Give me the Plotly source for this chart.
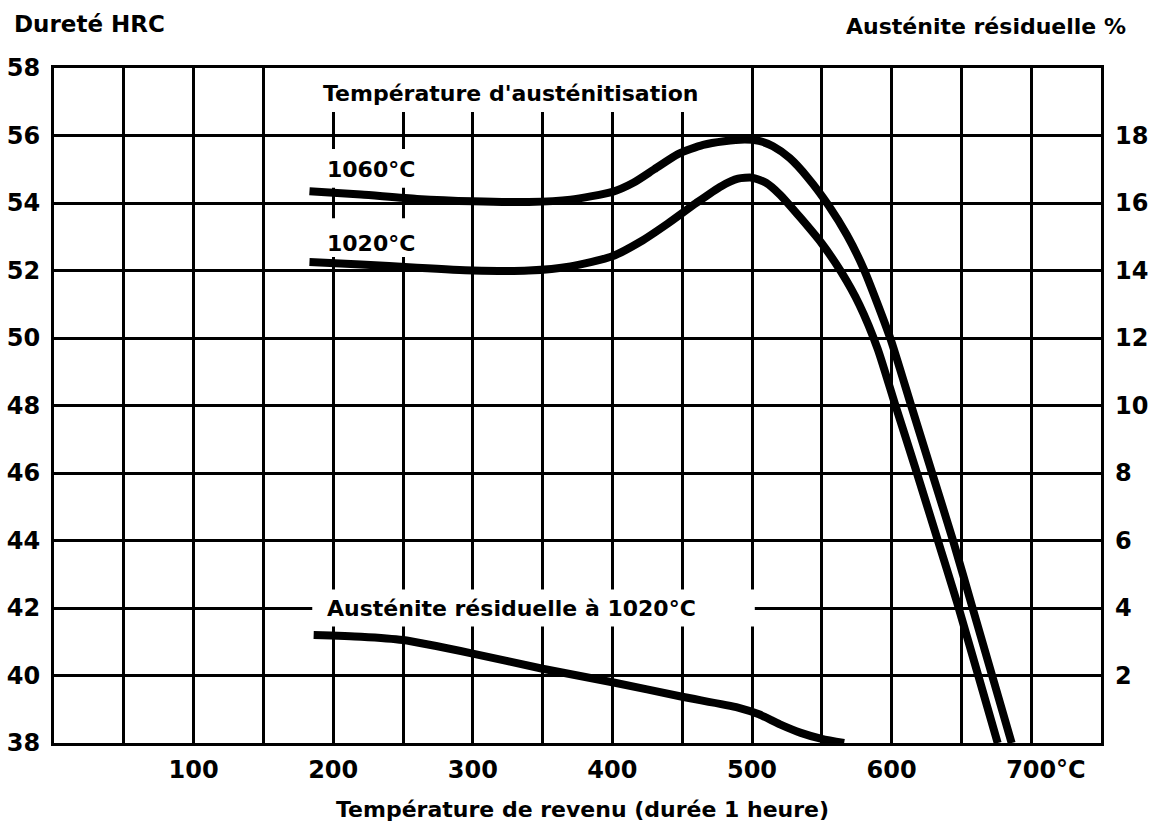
import plotly.graph_objects as go

# ---- data ----
temp_1060 = [183, 220, 260, 300, 340, 370, 400, 415, 430, 447, 465, 480, 495, 505, 515, 527, 540, 555, 568, 580, 599, 614, 629, 644, 658, 672, 686]
hrc_1060 = [54.35, 54.25, 54.12, 54.05, 54.03, 54.1, 54.33, 54.6, 55.0, 55.45, 55.72, 55.83, 55.88, 55.84, 55.68, 55.33, 54.75, 53.92, 53.05, 52.05, 50.0, 48.0, 46.0, 44.0, 42.0, 40.0, 38.0]

temp_1020 = [183, 220, 260, 300, 340, 370, 400, 420, 440, 460, 478, 490, 500, 510, 520, 535, 550, 564, 577, 590, 602, 617, 632, 647, 661, 676]
hrc_1020 = [52.25, 52.18, 52.08, 52.0, 52.0, 52.12, 52.42, 52.85, 53.4, 54.0, 54.5, 54.72, 54.75, 54.6, 54.25, 53.55, 52.8, 51.95, 50.98, 49.68, 48.1, 46.15, 44.15, 42.15, 40.15, 38.0]

temp_aus = [186, 220, 250, 300, 350, 400, 450, 490, 505, 520, 535, 550, 566]
aus_pct = [3.2, 3.15, 3.05, 2.65, 2.2, 1.8, 1.37, 1.05, 0.85, 0.55, 0.3, 0.12, 0.0]

x_tick_vals = [100, 200, 300, 400, 500, 600, 700]
x_tick_text = ["100", "200", "300", "400", "500", "600", "700"]
x_unit = "°C"
y_left_ticks = [38, 40, 42, 44, 46, 48, 50, 52, 54, 56, 58]
y_right_ticks = [2, 4, 6, 8, 10, 12, 14, 16, 18]

title_left = "Dureté HRC"
title_right = "Austénite résiduelle %"
title_x = "Température de revenu (durée 1 heure)"
label_group = "Température d'austénitisation"
label_1060 = "1060°C"
label_1020 = "1020°C"
label_aus = "Austénite résiduelle à 1020°C"

FONT = "DejaVu Sans"
INK = "black"

fig = go.Figure()

line_style = dict(color=INK, width=8, shape="spline", smoothing=0.6)
fig.add_trace(go.Scatter(x=temp_1060, y=hrc_1060, mode="lines", line=line_style,
                         showlegend=False, hoverinfo="skip"))
fig.add_trace(go.Scatter(x=temp_1020, y=hrc_1020, mode="lines", line=line_style,
                         showlegend=False, hoverinfo="skip"))
fig.add_trace(go.Scatter(x=temp_aus, y=aus_pct, mode="lines", line=line_style,
                         yaxis="y2", showlegend=False, hoverinfo="skip"))

# white patches where the scanned labels interrupt the grid
gaps = [
    dict(x0=185, x1=462, y0=56.7, y1=58),
    dict(x0=185, x1=270, y0=54.45, y1=55.6),
    dict(x0=185, x1=270, y0=52.4, y1=53.55),
    dict(x0=185, x1=502, y0=41.45, y1=42.55),
]
for g in gaps:
    fig.add_shape(type="rect", xref="x", yref="y", x0=g["x0"], x1=g["x1"], y0=g["y0"], y1=g["y1"],
                  fillcolor="white", line=dict(width=0), layer="between")

txt = dict(family=FONT, size=22, color=INK, weight="bold")
fig.add_annotation(x=327, y=57.25, xref="x", yref="y", text=label_group, showarrow=False, font=txt)
fig.add_annotation(x=227, y=54.98, xref="x", yref="y", text=label_1060, showarrow=False, font=txt)
fig.add_annotation(x=227, y=52.8, xref="x", yref="y", text=label_1020, showarrow=False, font=txt)
fig.add_annotation(x=328, y=42.0, xref="x", yref="y", text=label_aus, showarrow=False, font=txt)

fig.add_annotation(x=-0.040, y=1.065, xref="paper", yref="paper", text=title_left, showarrow=False,
                   xanchor="left", yanchor="middle", font=dict(family=FONT, size=23, color=INK, weight="bold"))
fig.add_annotation(x=1.026, y=1.062, xref="paper", yref="paper", text=title_right, showarrow=False,
                   xanchor="right", yanchor="middle", font=dict(family=FONT, size=22, color=INK, weight="bold"))
fig.add_annotation(x=0.505, y=-0.099, xref="paper", yref="paper", text=title_x, showarrow=False,
                   xanchor="center", yanchor="middle", font=dict(family=FONT, size=22, color=INK, weight="bold"))

tick_font = dict(family=FONT, size=24, color=INK, weight="bold")
fig.add_annotation(x=x_tick_vals[-1], y=-0.040, xref="x", yref="paper", text=x_unit, showarrow=False,
                   xanchor="left", yanchor="middle", xshift=23, font=tick_font)

fig.update_layout(
    width=1161, height=826,
    margin=dict(l=54, r=60, t=68, b=83, autoexpand=False),
    paper_bgcolor="white", plot_bgcolor="white",
    showlegend=False,
    xaxis=dict(range=[0, 750], tickvals=x_tick_vals, ticktext=x_tick_text, tickfont=tick_font,
               showgrid=True, gridcolor=INK, gridwidth=2.5,
               minor=dict(dtick=50, tick0=0, showgrid=True, gridcolor=INK, gridwidth=2.5),
               showline=True, linecolor=INK, linewidth=3, mirror=True, ticks="",
               zeroline=False, ticklabelstandoff=3, automargin=False),
    yaxis=dict(range=[38, 58], tickvals=y_left_ticks, tickfont=tick_font,
               showgrid=True, gridcolor=INK, gridwidth=2.5,
               showline=True, linecolor=INK, linewidth=3, mirror=True, ticks="",
               zeroline=False, ticklabelstandoff=6, automargin=False),
    yaxis2=dict(range=[0, 20], overlaying="y", side="right", tickvals=y_right_ticks, tickfont=tick_font,
                showgrid=False, zeroline=False, showline=False, ticks="", ticklabelstandoff=13,
                automargin=False),
)

fig.write_html(
    "out.html",
    config={"displayModeBar": False},
    post_script="document.body.style.margin='0';document.body.style.overflow='hidden';",
)
